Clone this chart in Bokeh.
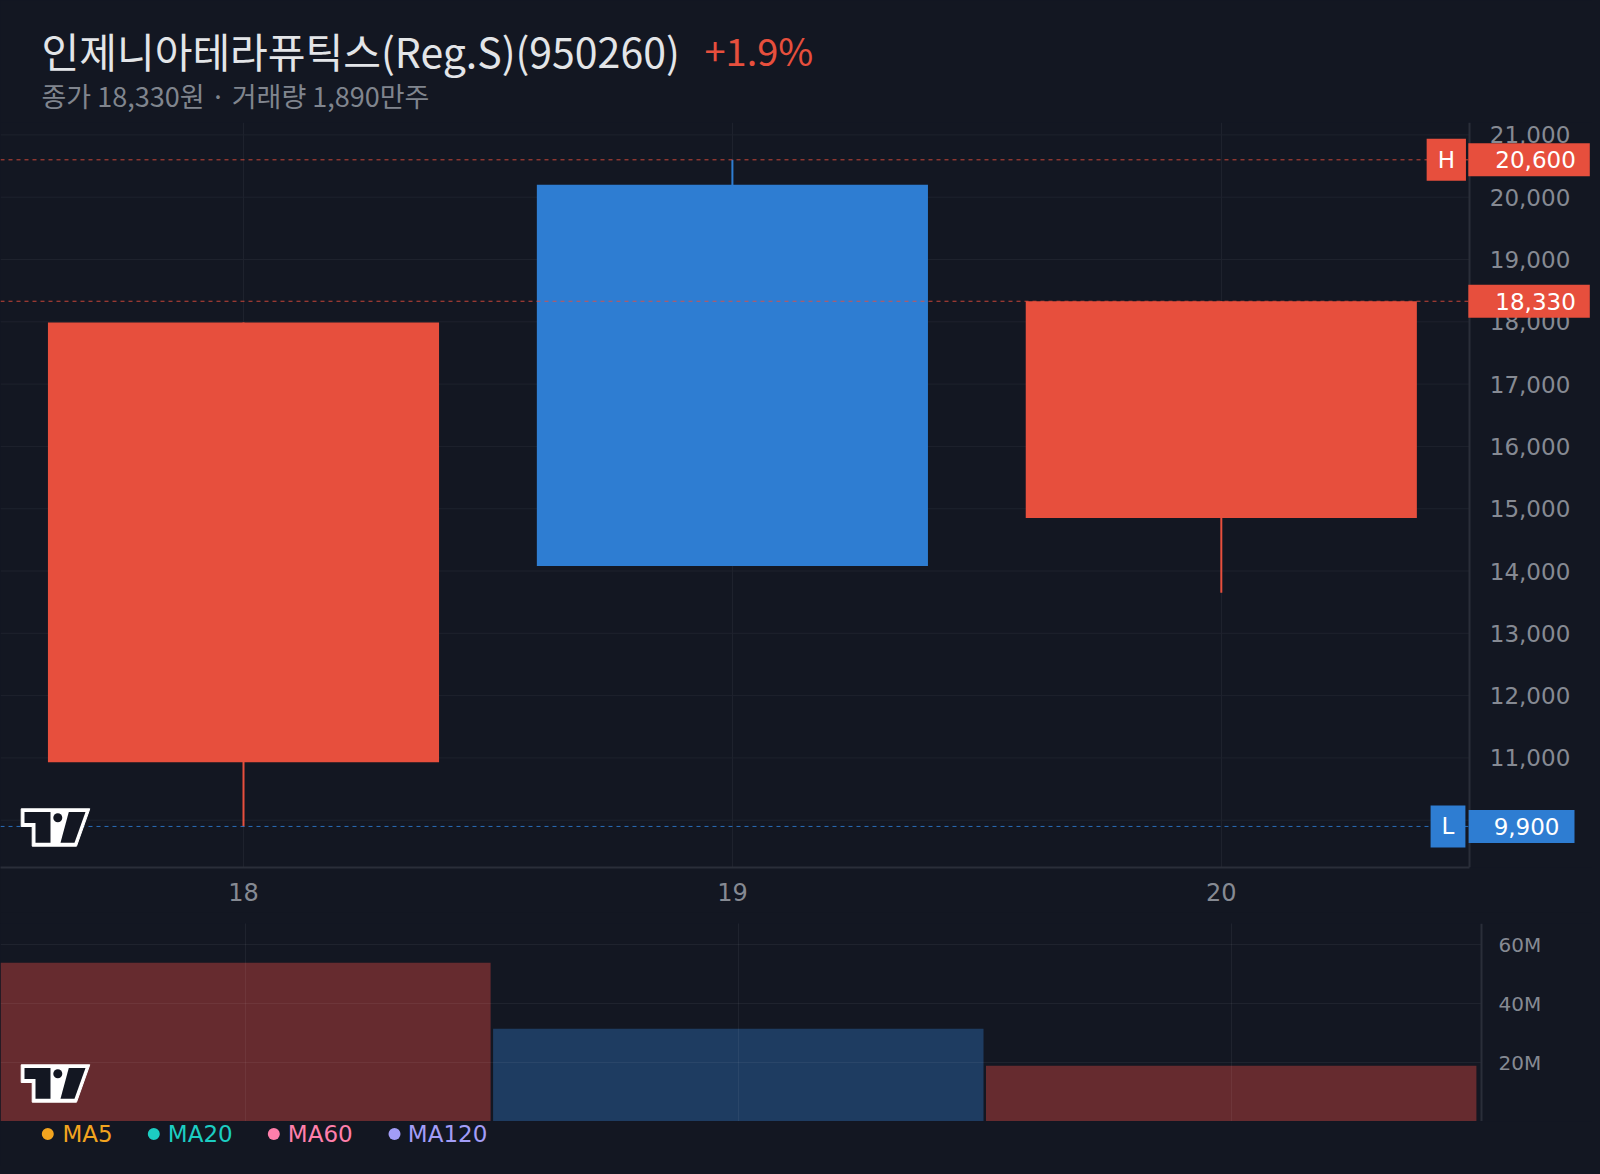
from bokeh.plotting import figure
from bokeh.layouts import column
from bokeh.models import (Range1d, FixedTicker, NumeralTickFormatter, Label, LinearAxis,
                          ColumnDataSource, GlobalInlineStyleSheet)
from bokeh.core.properties import value
from bokeh.embed import file_html
from bokeh.resources import INLINE

# ---------------- data ----------------
DAYS = [18, 19, 20]
DAY_LABELS = ["18", "19", "20"]
OPEN = [10930, 20200, 14850]
HIGH = [17990, 20600, 18330]
LOW = [9900, 14080, 13650]
CLOSE = [17990, 14080, 18330]
VOLUME = [53_800_000, 31_400_000, 18_900_000]

PRICE_TICKS = [10000, 11000, 12000, 13000, 14000, 15000, 16000,
               17000, 18000, 19000, 20000, 21000]
VOL_TICKS = [20_000_000, 40_000_000, 60_000_000]
VOL_TICK_LABELS = ["20M", "40M", "60M"]

TITLE = "인제니아테라퓨틱스(Reg.S)(950260)"
CHANGE = "+1.9%"
SUBTITLE = "종가 18,330원 · 거래량 1,890만주"
MA_NAMES = ["MA5", "MA20", "MA60", "MA120"]
MA_COLORS = ["#f2a41f", "#1ccdc2", "#ff7fab", "#a29df7"]

# ---------------- style ----------------
BG = "#131722"
GRID = "#1e222d"
AXIS = "#2a2e39"
TICK_TXT = "#868a93"
RED = "#e74f3d"
BLUE = "#2e7dd2"
VOL_RED = "#662b2f"
VOL_BLUE = "#1e3c61"
NUM_FONT = "DejaVu Sans"
KR_FONT = "Noto Sans CJK KR"
W = 1592

# main panel: frame spans full width, page y 122..867
M_PX_DAY = 488.9            # px per day
M_X18 = 243.0               # page x of day 18
MX0 = 18 - M_X18 / M_PX_DAY
MX1 = MX0 + W / M_PX_DAY
MY1, MY0 = 21199.0, 9241.0  # top / bottom of frame
M_TOP, M_H = 122, 745

# volume panel: frame spans full width, page y 923..1121
V_PX_DAY = 492.9
V_X18 = 244.9
VX0 = 18 - V_X18 / V_PX_DAY
VX1 = VX0 + W / V_PX_DAY
VY0, VY1 = 0, 67_120_000
V_TOP, V_H = 923, 198


def mx(px):
    return MX0 + px / M_PX_DAY


def my(py):
    return MY1 - (py - M_TOP) / M_H * (MY1 - MY0)


def vx(px):
    return VX0 + px / V_PX_DAY


def vy(py):
    return VY1 - (py - V_TOP) / V_H * (VY1 - VY0)


M_AXIS = mx(1469.3)   # price axis position
V_AXIS = vx(1481.0)   # volume axis position


def style_common(f):
    f.background_fill_color = BG
    f.border_fill_color = BG
    f.outline_line_color = None


def blank(height, top, bottom):
    f = figure(width=W, height=height, x_range=Range1d(0, W), y_range=Range1d(bottom, top),
               x_axis_location=None, y_axis_location=None, output_backend="svg",
               toolbar_location=None, min_border=0)
    style_common(f)
    f.grid.visible = False
    return f


def add_logo(f, ox, oy, cx, cy):
    sil = [(0, 0), (68.6, 0), (55.3, 37.4), (11, 37.4), (11, 17.7), (0, 17.7)]
    tee = [(3.3, 3.3), (29.3, 3.3), (29.3, 34), (14.3, 34), (14.3, 14.3), (3.3, 14.3)]
    par = [(47.6, 3.3), (64.3, 3.3), (53.3, 34), (39.3, 34)]
    f.patch([cx(ox + a) for a, b in sil], [cy(oy + b) for a, b in sil],
            fill_color="white", line_color="white", line_width=1)
    for shp in (tee, par):
        f.patch([cx(ox + a) for a, b in shp], [cy(oy + b) for a, b in shp],
                fill_color=BG, line_color=None)
    f.scatter([cx(ox + 36.6)], [cy(oy + 9)], size=9, marker="circle",
              fill_color=BG, line_color=None)


# ---------------- header ----------------
head = blank(122, 0, 122)
head.text(x=[41], y=[49], text=[TITLE], text_font=value(KR_FONT), text_font_size="41px",
          text_color="#e3e5e8", text_baseline="middle", text_align="left")
head.text(x=[704], y=[49], text=[CHANGE], text_font=value(KR_FONT), text_font_size="38px",
          text_color=RED, text_baseline="middle", text_align="left")
head.text(x=[41], y=[95], text=[SUBTITLE], text_font=value(KR_FONT), text_font_size="27px",
          text_color="#80858e", text_baseline="middle", text_align="left")

# ---------------- main candlestick ----------------
main = figure(width=W, height=790, x_range=Range1d(MX0, MX1), y_range=Range1d(MY0, MY1),
              y_axis_location=None, output_backend="svg", toolbar_location=None,
              min_border_left=0, min_border_right=0, min_border_top=0, min_border_bottom=45)
style_common(main)
main.ygrid.visible = False
main.xgrid.grid_line_color = GRID

# horizontal grid lines (stop at the price axis)
main.segment(x0=[MX0] * len(PRICE_TICKS), x1=[M_AXIS] * len(PRICE_TICKS),
             y0=PRICE_TICKS, y1=PRICE_TICKS, line_color=GRID, line_width=1)

colors = [RED if c >= o else BLUE for o, c in zip(OPEN, CLOSE)]
src = ColumnDataSource(dict(
    x=DAYS, high=HIGH, low=LOW,
    top=[max(o, c) for o, c in zip(OPEN, CLOSE)],
    bottom=[min(o, c) for o, c in zip(OPEN, CLOSE)],
    color=colors))
main.segment(x0="x", y0="high", x1="x", y1="low", line_color="color", line_width=2, source=src)
main.vbar(x="x", width=0.8, top="top", bottom="bottom", fill_color="color",
          line_color=None, source=src)

hi, lo, last = max(HIGH), min(LOW), CLOSE[-1]
main.segment(x0=[MX0] * 3, x1=[M_AXIS] * 3, y0=[hi, last, lo], y1=[hi, last, lo],
             line_color=[RED, RED, BLUE], line_alpha=0.85, line_dash="4 4", line_width=1)

# x axis (day labels)
main.xaxis.ticker = FixedTicker(ticks=DAYS)
main.xaxis.major_label_overrides = {d: l for d, l in zip(DAYS, DAY_LABELS)}
main.xaxis.bounds = (MX0, M_AXIS)
main.xaxis.major_label_standoff = 15
main.xaxis.major_label_text_font_size = "24px"

# price axis at a fixed location inside the frame
yax = LinearAxis(fixed_location=M_AXIS, ticker=FixedTicker(ticks=PRICE_TICKS),
                 formatter=NumeralTickFormatter(format="0,0"))
yax.major_label_standoff = 20
yax.major_label_text_font_size = "23px"
main.add_layout(yax, "right")

for ax in (main.xaxis[0], yax):
    ax.axis_line_color = AXIS
    ax.axis_line_width = 2
    ax.major_tick_line_color = None
    ax.minor_tick_line_color = None
    ax.major_tick_out = 0
    ax.major_tick_in = 0
    ax.minor_tick_out = 0
    ax.minor_tick_in = 0
    ax.major_label_text_color = TICK_TXT
    ax.major_label_text_font = NUM_FONT

add_logo(main, 20.7, 808.3, mx, my)


# padding order as rendered: (left, right, top, bottom); x is the box anchor
def tag(f, x, y, text, color, pad, align):
    f.add_layout(Label(x=x, y=y, text=text, text_align=align,
                       text_baseline="middle", text_color="white", text_font=NUM_FONT,
                       text_font_size="23px", background_fill_color=color,
                       border_line_color=None, padding=pad))


tag(main, mx(1445.8), hi, "H", RED, (11, 11, 8, 8), "center")
tag(main, mx(1589.3), hi, f"{hi:,}", RED, (27, 14, 8, 8), "right")
tag(main, mx(1589.3), last, f"{last:,}", RED, (27, 14, 8, 8), "right")
tag(main, mx(1447.5), lo, "L", BLUE, (11, 11, 8, 8), "center")
tag(main, mx(1574), lo, f"{lo:,}", BLUE, (25, 15, 8, 8), "right")

# ---------------- volume ----------------
vol = figure(width=W, height=209, x_range=Range1d(VX0, VX1), y_range=Range1d(VY0, VY1),
             y_axis_location=None, x_axis_location=None, output_backend="svg",
             toolbar_location=None, min_border_left=0, min_border_right=0,
             min_border_top=11, min_border_bottom=0)
style_common(vol)
vol.ygrid.visible = False
vcolors = [VOL_RED if c >= o else VOL_BLUE for o, c in zip(OPEN, CLOSE)]
vol.vbar(x=DAYS, top=VOLUME, bottom=0, width=0.995, fill_color=vcolors, line_color=None)
vol.segment(x0=[VX0] * len(VOL_TICKS), x1=[V_AXIS] * len(VOL_TICKS), y0=VOL_TICKS,
            y1=VOL_TICKS, line_color="white", line_alpha=0.055, line_width=1)
vol.xgrid.ticker = FixedTicker(ticks=DAYS)
vol.xgrid.grid_line_color = "white"
vol.xgrid.grid_line_alpha = 0.055
vol.xgrid.level = "overlay"

vax = LinearAxis(fixed_location=V_AXIS, ticker=FixedTicker(ticks=VOL_TICKS))
vax.major_label_overrides = {t: l for t, l in zip(VOL_TICKS, VOL_TICK_LABELS)}
vax.axis_line_color = AXIS
vax.axis_line_width = 2
vax.major_tick_line_color = None
vax.minor_tick_line_color = None
vax.major_tick_out = 0
vax.major_tick_in = 0
vax.minor_tick_out = 0
vax.minor_tick_in = 0
vax.major_label_standoff = 17
vax.major_label_text_color = TICK_TXT
vax.major_label_text_font = NUM_FONT
vax.major_label_text_font_size = "20px"
vol.add_layout(vax, "right")
add_logo(vol, 20.7, 1064.3, vx, vy)

# ---------------- legend footer ----------------
foot = blank(45, 1121, 1166)
dot_x = [47.3, 153.3, 273.3, 394]
txt_x = [62, 167.3, 287.3, 407.3]
foot.scatter(x=dot_x, y=[1133.5] * 4, size=12, marker="circle", fill_color=MA_COLORS,
             line_color=None)
foot.text(x=txt_x, y=[1133.5] * 4, text=MA_NAMES, text_color=MA_COLORS,
          text_font=value(NUM_FONT), text_font_size="23px", text_baseline="middle",
          text_align="left")

p = column(head, main, vol, foot, spacing=0,
           stylesheets=[GlobalInlineStyleSheet(css="html, body { background-color: #131722; }")])

open("out.html", "w").write(file_html(p, INLINE))
